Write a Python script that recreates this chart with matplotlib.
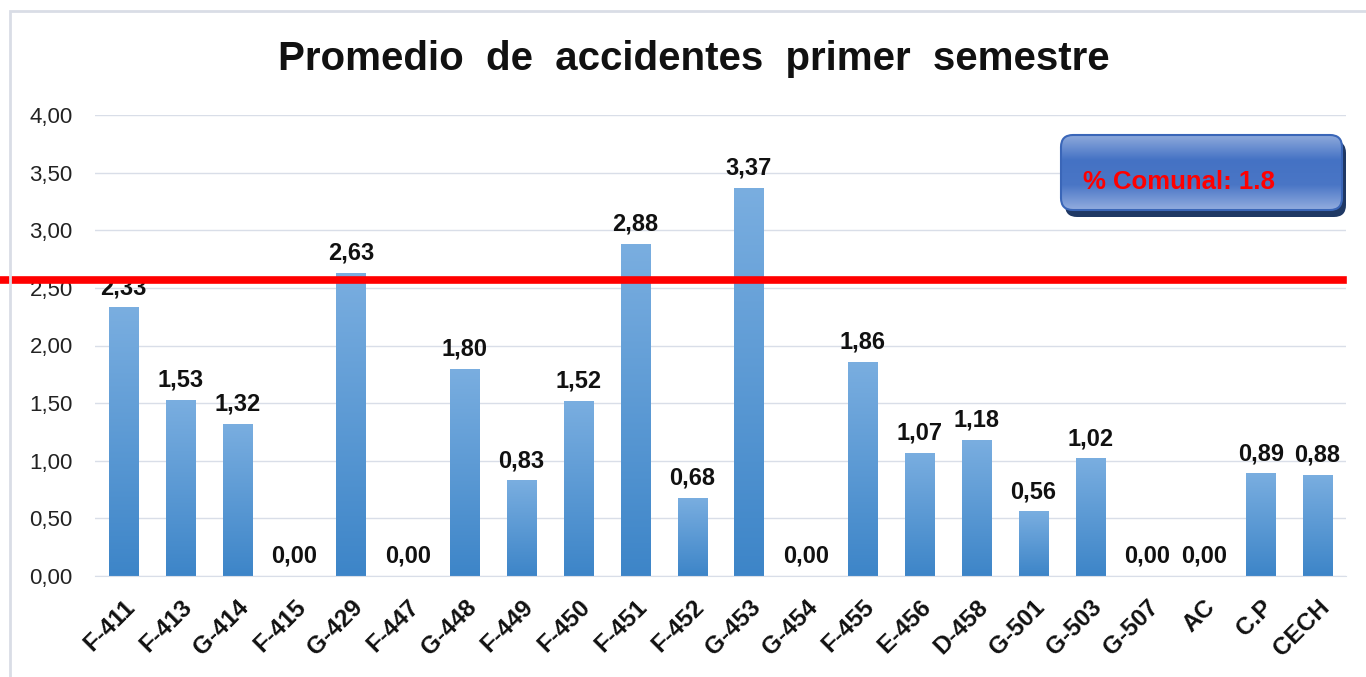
import matplotlib.pyplot as plt
import numpy as np
from matplotlib.patches import FancyBboxPatch, Rectangle
from matplotlib.colors import LinearSegmentedColormap

# datos
categorias = ['F-411', 'F-413', 'G-414', 'F-415', 'G-429', 'F-447', 'G-448', 'F-449',
              'F-450', 'F-451', 'F-452', 'G-453', 'G-454', 'F-455', 'E-456', 'D-458',
              'G-501', 'G-503', 'G-507', 'AC', 'C.P', 'CECH']
promedios = [2.33, 1.53, 1.32, 0.00, 2.63, 0.00, 1.80, 0.83, 1.52, 2.88, 0.68, 3.37,
             0.00, 1.86, 1.07, 1.18, 0.56, 1.02, 0.00, 0.00, 0.89, 0.88]
linea_ref = 2.57
texto_caja = '% Comunal: 1.8'

plt.rcParams['font.family'] = ['Liberation Sans', 'DejaVu Sans']

W, H = 1366, 677
fig = plt.figure(figsize=(13.66, 6.77), dpi=100)
ax = fig.add_axes([95/W, 1-576/H, 1251/W, 461/H])

# marco del grafico
fig.patches.append(Rectangle((10/W, -0.01), 1.0, 1-11/H+0.01, transform=fig.transFigure,
                             fill=False, edgecolor='#d9dde6', linewidth=2))

fig.text(694/W, 1-70/H, 'Promedio  de  accidentes  primer  semestre', fontsize=29,
         fontweight='bold', ha='center', va='baseline', color='#111111')

x = np.arange(len(categorias))
ancho = 0.51
cmap = LinearSegmentedColormap.from_list('azul', ['#3d85c8', '#7aaee0'])
grad = np.linspace(0, 1, 256).reshape(-1, 1)
barras = ax.bar(x, promedios, width=ancho, color='none', edgecolor='none', zorder=2)
for b in barras:
    h = b.get_height()
    if h <= 0:
        continue
    im = ax.imshow(grad, extent=[b.get_x(), b.get_x() + b.get_width(), 0, h],
                   origin='lower', aspect='auto', cmap=cmap, zorder=2)
    im.set_clip_path(b)

for xi, v in zip(x, promedios):
    ax.annotate(f'{v:.2f}'.replace('.', ','), (xi, v), xytext=(0, 6), textcoords='offset points',
                ha='center', va='bottom', fontsize=17, fontweight='bold', color='#111111')

ax.set_xlim(-0.5, len(categorias) - 0.5)
ax.set_ylim(0, 4)
ticks = np.arange(0, 4.01, 0.5)
ax.set_yticks(ticks)
ax.set_yticklabels([f'{t:.2f}'.replace('.', ',') for t in ticks], fontsize=16, color='#222222')
ax.set_xticks(x)
ax.set_xticklabels(categorias, rotation=45, ha='right', rotation_mode='anchor',
                   fontsize=17.5, fontweight='bold', color='#111111')
ax.tick_params(length=0)
ax.tick_params(axis='y', pad=16)
ax.tick_params(axis='x', pad=14)
ax.grid(axis='y', color='#d9dee8', linewidth=1)
ax.set_axisbelow(True)
for s in ['top', 'right', 'left']:
    ax.spines[s].set_visible(False)
ax.spines['bottom'].set_color('#d9dee8')

ax.axhline(linea_ref, xmin=-93/1251, xmax=1248/1251, color='#ff0000', linewidth=5.5,
           clip_on=False, zorder=4)

# caja % comunal (coordenadas en pixeles)
ax2 = fig.add_axes([1055/W, 1-225/H, 300/W, 95/H], zorder=5)
ax2.axis('off')
sombra = FancyBboxPatch((1065, 141), 281, 76, boxstyle='round,pad=0,rounding_size=12',
                        facecolor='#1f3864', edgecolor='none', zorder=1)
ax2.add_patch(sombra)
caja = FancyBboxPatch((1061, 135), 281, 75, boxstyle='round,pad=0,rounding_size=12',
                      facecolor='#4472c4', edgecolor='none', zorder=2)
ax2.add_patch(caja)
cbox = LinearSegmentedColormap.from_list('caja', ['#93addf', '#4a76c6', '#4472c4', '#8eaadc'])
imb = ax2.imshow(np.linspace(0, 1, 256).reshape(-1, 1), extent=[1061, 1342, 210, 135],
                 aspect='auto', cmap=cbox, origin='lower', zorder=3)
imb.set_clip_path(caja)
ax2.add_patch(FancyBboxPatch((1061, 135), 281, 75, boxstyle='round,pad=0,rounding_size=12',
                             facecolor='none', edgecolor='#3a66b8', linewidth=1.5, zorder=4))
ax2.text(1083, 182, texto_caja, fontsize=18.5, fontweight='bold', color='#ff0000',
         ha='left', va='center', zorder=5)
ax2.set_xlim(1055, 1355)
ax2.set_ylim(225, 130)

plt.savefig('out.png', dpi=100)
